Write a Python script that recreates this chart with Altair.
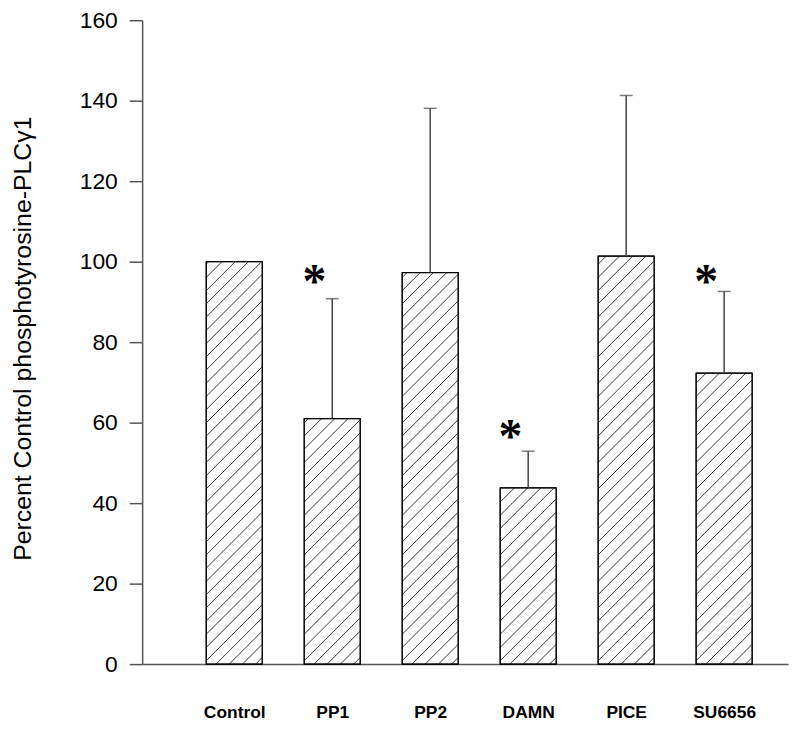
import altair as alt
import pandas as pd
import numpy as np

# ---- data ----
categories = ["Control", "PP1", "PP2", "DAMN", "PICE", "SU6656"]
means = [100.0, 61.0, 97.3, 43.8, 101.4, 72.3]
err_top = [None, 90.8, 138.1, 52.9, 141.3, 92.6]      # top of the upper error bar
significant = [False, True, False, True, False, True]
star_level = [None, 96.0, None, 57.5, None, 96.0]

# ---- layout / style constants ----
TOP = 10
W, H = 650, 648
X_MIN, X_MAX = -0.94, 5.652
Y_MAX = 160
HALF = 0.286               # half bar width in index units
HATCH_GAP = 13.3           # px between hatch lines (horizontal)
kx = W / (X_MAX - X_MIN)
ky = H / Y_MAX
FONT = "Liberation Sans"

idx = list(range(len(categories)))
bars = pd.DataFrame({
    "cat": categories, "i": idx, "mean": means,
    "x0": [i - HALF for i in idx], "x1": [i + HALF for i in idx],
    "base": [0.0] * len(idx),
})

err_rows = [dict(i=i, mean=m, top=t) for i, m, t in zip(idx, means, err_top) if t is not None]
errs = pd.DataFrame(err_rows)

star_rows = [dict(i=i, y=s) for i, s, sig in zip(idx, star_level, significant) if sig]
stars = pd.DataFrame(star_rows)

# hatch segments (45 deg in pixel space), clipped to each bar
hrows = []
Wp = 2 * HALF * kx
for i, m in zip(idx, means):
    Hp = m * ky
    left = i - HALF
    d = -Wp + HATCH_GAP * 0.5
    while d < Hp:
        u0 = max(0.0, -d)
        u1 = min(Wp, Hp - d)
        if u1 > u0:
            hrows.append(dict(hx=left + u0 / kx, hx2=left + u1 / kx,
                              hy=(u0 + d) / ky, hy2=(u1 + d) / ky))
        d += HATCH_GAP
hatch = pd.DataFrame(hrows)

xscale = alt.Scale(domain=[X_MIN, X_MAX], nice=False, zero=False)
yscale = alt.Scale(domain=[0, Y_MAX], nice=False, zero=True)

label_expr = "[" + ",".join("'%s'" % c for c in categories) + "][datum.value]"

xaxis = alt.Axis(
    values=idx, labelExpr=label_expr, title=None, ticks=False, grid=False,
    domainColor="#555", domainWidth=1.5, labelFont=FONT, labelFontSize=17.5,
    labelFontWeight="bold", labelColor="black", labelPadding=40, labelBaseline="top")
yaxis = alt.Axis(
    values=list(range(0, 161, 20)), grid=False, tickSize=13, tickColor="#555",
    domainColor="#555", domainWidth=1.5, tickWidth=1.5,
    labelFont=FONT, labelFontSize=23, labelColor="black", labelPadding=12,
    title="Percent Control phosphotyrosine-PLCγ1", titleFont=FONT, titleFontSize=25,
    titleFontWeight="normal", titleColor="black", titleAngle=270,
    titleX=-112, titleY=338 - 8 - TOP, titleBaseline="alphabetic", titleAlign="center")

bar_layer = alt.Chart(bars).mark_rect(fill="white", stroke="black", strokeWidth=1).encode(
    x=alt.X("x0:Q", scale=xscale, axis=xaxis), x2="x1:Q",
    y=alt.Y("mean:Q", scale=yscale, axis=yaxis), y2="base:Q",
)

hatch_layer = alt.Chart(hatch).mark_rule(color="#222", strokeWidth=0.9).encode(
    x=alt.X("hx:Q", scale=xscale, axis=xaxis), x2="hx2:Q",
    y=alt.Y("hy:Q", scale=yscale, axis=yaxis), y2="hy2:Q",
)

outline_layer = alt.Chart(bars).mark_rect(fill="white", fillOpacity=0, stroke="black", strokeWidth=1.2).encode(
    x=alt.X("x0:Q", scale=xscale, axis=xaxis), x2="x1:Q",
    y=alt.Y("mean:Q", scale=yscale, axis=yaxis), y2="base:Q",
)

err_layer = alt.Chart(errs).mark_rule(color="#444", strokeWidth=1.5).encode(
    x=alt.X("i:Q", scale=xscale, axis=xaxis),
    y=alt.Y("mean:Q", scale=yscale, axis=yaxis), y2="top:Q",
)

cap_layer = alt.Chart(errs).mark_tick(color="#444", orient="horizontal", size=13, thickness=1.5).encode(
    x=alt.X("i:Q", scale=xscale, axis=xaxis),
    y=alt.Y("top:Q", scale=yscale, axis=yaxis),
)

star_layer = alt.Chart(stars).mark_text(
    text="*", font="Liberation Serif", fontSize=48, fontWeight="bold",
    color="black", baseline="middle", align="center", dx=-18, dy=5).encode(
    x=alt.X("i:Q", scale=xscale, axis=xaxis),
    y=alt.Y("y:Q", scale=yscale, axis=yaxis),
)

chart = alt.layer(bar_layer, hatch_layer, outline_layer, err_layer, cap_layer, star_layer).properties(
    width=W, height=H,
    autosize=alt.AutoSizeParams(type="none"),
    padding={"left": 135, "top": TOP, "right": 4, "bottom": 60},
).configure_view(stroke=None)

chart.save("out.html", embed_options={"renderer": "svg", "actions": False})
